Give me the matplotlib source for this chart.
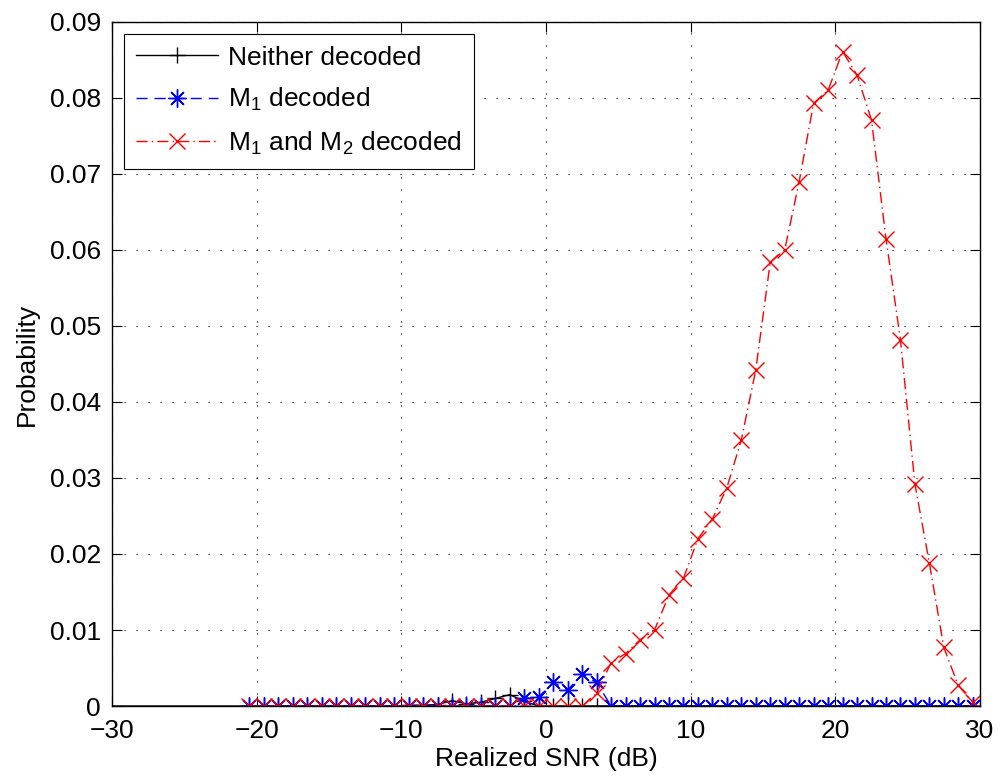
import numpy as np
import matplotlib
matplotlib.use("Agg")
import matplotlib.pyplot as plt
from matplotlib.ticker import FuncFormatter

plt.rcParams['font.family'] = ['Liberation Sans', 'DejaVu Sans']
plt.rcParams['mathtext.fontset'] = 'custom'
plt.rcParams['mathtext.rm'] = 'Liberation Sans'
plt.rcParams['mathtext.it'] = 'Liberation Sans:italic'

# realized SNR bin centres (dB): -20.5 ... 29.5
snr = np.arange(-20.5, 30.0, 1.0)

# neither message decoded (line also runs in from the far left)
neither = ([0] * 11
           + [0.0001, 0.0001, 0.0002, 0.0007, 0.0003, 0.0005, 0.0010, 0.0015, 0.0006]
           + [0] * 31)
neither_start = -40.0

# only M1 decoded
m1 = ([0] * 19
      + [0.0010, 0.0012, 0.0031, 0.0021, 0.0042, 0.0031]
      + [0] * 26)

# M1 and M2 decoded
m12 = ([0] * 24
       + [0.0017, 0.0057, 0.0069, 0.0087, 0.0100, 0.0146, 0.0168, 0.0220, 0.0246,
          0.0287, 0.0350, 0.0442, 0.0584, 0.0600, 0.0690, 0.0793, 0.0810, 0.0861,
          0.0830, 0.0771, 0.0615, 0.0482, 0.0292, 0.0188, 0.0077, 0.0027, 0.0005])

labels = ['Neither decoded', r'M$_1$ decoded', r'M$_1$ and M$_2$ decoded']

fig = plt.figure(figsize=(10, 7.81), dpi=100)
ax = fig.add_axes([0.112, 0.096, 0.868, 0.876])

asterisk = (8, 2, 0)

ax.plot(np.concatenate([[neither_start], snr]), [0] + neither, color='black', lw=1.0,
        marker='+', ms=12, mew=1.0, markevery=slice(1, None), label=labels[0])
ax.plot(snr, m1, color='blue', lw=1.0, ls=(0, (8, 5)),
        marker=asterisk, ms=13, mew=1.0, label=labels[1])
ax.plot(snr, m12, color='red', lw=1.0, ls=(0, (8, 3, 1, 3)),
        marker='x', ms=11, mew=1.0, label=labels[2])

ax.set_xlim(-30, 30)
ax.set_ylim(0, 0.09)
ax.set_xticks(np.arange(-30, 31, 10))
ax.set_yticks(np.arange(0, 0.091, 0.01))
ax.yaxis.set_major_formatter(FuncFormatter(lambda v, p: '%g' % round(v, 3)))
ax.xaxis.set_major_formatter(FuncFormatter(lambda v, p: '%d' % v if v >= 0 else '\u2212%d' % -v))

ax.grid(True, color='black', ls=(0, (1, 9.8)), lw=0.8)
ax.tick_params(direction='in', top=True, right=True, length=7, width=0.8,
               labelsize=19)
ax.tick_params(axis='x', pad=9)
ax.tick_params(axis='y', pad=8)
for s in ax.spines.values():
    s.set_linewidth(1.0)

ax.set_xlabel('Realized SNR (dB)', fontsize=19, labelpad=3)
ax.set_ylabel('Probability', fontsize=19, labelpad=8)

leg = ax.legend(loc='upper left', fontsize=19, fancybox=False, framealpha=1,
                edgecolor='black', handlelength=3.1, handletextpad=0.4,
                borderaxespad=0.45, labelspacing=0.62, borderpad=0.45)
leg.get_frame().set_linewidth(0.8)

fig.savefig('out.png', dpi=100)
